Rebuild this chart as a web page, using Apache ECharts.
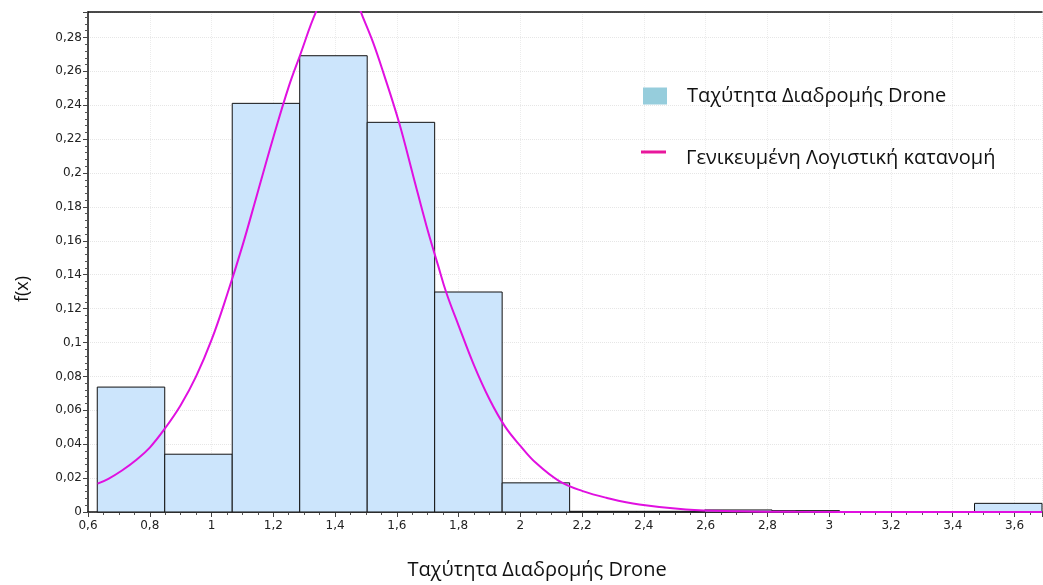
<!DOCTYPE html>
<html>
<head>
<meta charset="utf-8"/>
<title>Ταχύτητα Διαδρομής Drone</title>
<script src="https://cdn.jsdelivr.net/npm/echarts@6/dist/echarts.min.js"></script>
<style>
  html, body { margin: 0; padding: 0; background: #fff; }
  #chart { width: 1043px; height: 585px; }
</style>
</head>
<body>
<div id="chart"></div>
<script type="text/javascript">
// histogram bins (start of each bin), common width, and density values
var binStart = [0.630, 0.8485, 1.067, 1.2855, 1.504, 1.7225, 1.941, 2.1595, 2.378, 2.5965, 2.815, 3.0335, 3.252, 3.4705];
var binWidth = 0.2185;
var binValue = [0.0737, 0.0341, 0.2411, 0.2692, 0.2299, 0.1298, 0.0172, 0.0004, 0.0004, 0.0012, 0.0008, 0, 0, 0.0051];

// fitted curve
var curveX = [0.631, 0.666, 0.71, 0.758, 0.80, 0.848, 0.90, 0.95, 1.00, 1.05, 1.10, 1.15, 1.20, 1.25, 1.286, 1.34, 1.38, 1.42, 1.46, 1.49, 1.523, 1.556, 1.607, 1.653, 1.696, 1.734, 1.76, 1.80, 1.85, 1.90, 1.95, 2.00, 2.05, 2.126, 2.202, 2.278, 2.385, 2.536, 2.708, 2.891, 3.2, 3.689];
var curveY = [0.0167, 0.0196, 0.0245, 0.031, 0.038, 0.049, 0.063, 0.080, 0.1015, 0.128, 0.157, 0.189, 0.221, 0.251, 0.2692, 0.2958, 0.308, 0.312, 0.305, 0.292, 0.2771, 0.2594, 0.2299, 0.1983, 0.1688, 0.1452, 0.1295, 0.110, 0.0865, 0.0665, 0.0505, 0.039, 0.029, 0.0182, 0.0123, 0.0084, 0.0044, 0.0015, 0.0005, 0.0001, 0, 0];

var seriesNames = ['Ταχύτητα Διαδρομής Drone', 'Γενικευμένη Λογιστική κατανομή'];

var histData = binStart.map(function (s, i) { return [s, s + binWidth, binValue[i]]; });
var curveData = curveX.map(function (x, i) { return [x, curveY[i]]; });

function comma(v) {
  return String(+v.toFixed(2)).replace('.', ',');
}

var myChart = echarts.init(document.getElementById('chart'));
var option = {
  animation: false,
  grid: { left: 88, right: 1, top: 12, bottom: 73 },
  legend: [
    {
      left: 638, top: 81, itemWidth: 24, itemHeight: 17,
      data: [{ name: seriesNames[0], icon: 'rect', itemStyle: { color: '#96cddc', borderWidth: 0 } }],
      textStyle: { fontFamily: 'Open Sans', fontSize: 20, color: '#111', padding: [0, 0, 0, 15] }
    },
    {
      left: 636, top: 143, itemWidth: 25, itemHeight: 3,
      data: [{ name: seriesNames[1], icon: 'rect', itemStyle: { color: '#e8179c' } }],
      formatter: function (name) { return '{t|' + name + '}'; },
      textStyle: {
        rich: { t: { fontFamily: 'Open Sans', fontSize: 20, color: '#111', padding: [12, 0, 0, 15] } }
      }
    }
  ],
  xAxis: [
    {
      type: 'value', min: 0.6, max: 3.689, interval: 0.2,
      name: 'Ταχύτητα Διαδρομής Drone', nameLocation: 'middle', nameGap: 48,
      nameTextStyle: { fontFamily: 'Open Sans', fontSize: 20, color: '#111', padding: [0, 56, 0, 0] },
      axisLine: { onZero: false, lineStyle: { color: '#111', width: 1.5 } },
      axisTick: { length: 5, lineStyle: { color: '#444' } },
      minorTick: { show: true, splitNumber: 4, length: 3, lineStyle: { color: '#555' } },
      axisLabel: { showMaxLabel: false, fontFamily: 'DejaVu Sans', fontSize: 12, color: '#222', margin: 8, formatter: comma },
      splitLine: { show: true, lineStyle: { color: '#ececec', type: 'dotted' } }
    },
    {
      type: 'value', position: 'top', min: 0.6, max: 3.689,
      axisLine: { show: true, onZero: false, lineStyle: { color: '#111', width: 1.5 } },
      axisTick: { show: false }, axisLabel: { show: false }, splitLine: { show: false }
    }
  ],
  yAxis: {
    type: 'value', min: 0, max: 0.295, interval: 0.02,
    name: 'f(x)', nameLocation: 'middle', nameGap: 56, nameRotate: 90,
    nameTextStyle: { fontFamily: 'Open Sans', fontSize: 18, color: '#111', padding: [0, 54, 0, 0] },
    axisLine: { show: true, lineStyle: { color: '#111', width: 1.5 } },
    axisTick: { show: true, length: 5, lineStyle: { color: '#444' } },
    minorTick: { show: true, splitNumber: 5, length: 3, lineStyle: { color: '#555' } },
    axisLabel: { showMaxLabel: false, fontFamily: 'DejaVu Sans', fontSize: 12, color: '#222', margin: 6, formatter: comma },
    splitLine: { show: true, lineStyle: { color: '#e6e6e6', type: 'dotted' } }
  },
  series: [
    {
      name: seriesNames[0],
      type: 'custom',
      xAxisIndex: 0,
      data: histData,
      encode: { x: [0, 1], y: 2 },
      renderItem: function (params, api) {
        var p0 = api.coord([api.value(0), api.value(2)]);
        var p1 = api.coord([api.value(1), 0]);
        return {
          type: 'rect',
          shape: { x: p0[0], y: p0[1], width: p1[0] - p0[0], height: p1[1] - p0[1] },
          style: { fill: '#cce5fc', stroke: '#111', lineWidth: 1 }
        };
      },
      z: 2
    },
    {
      name: seriesNames[1],
      type: 'line',
      xAxisIndex: 0,
      data: curveData,
      showSymbol: false,
      smooth: 0.4,
      clip: true,
      lineStyle: { color: '#e010e0', width: 2 },
      itemStyle: { color: '#e010e0' },
      z: 3
    }
  ]
};
myChart.setOption(option);
</script>
</body>
</html>
